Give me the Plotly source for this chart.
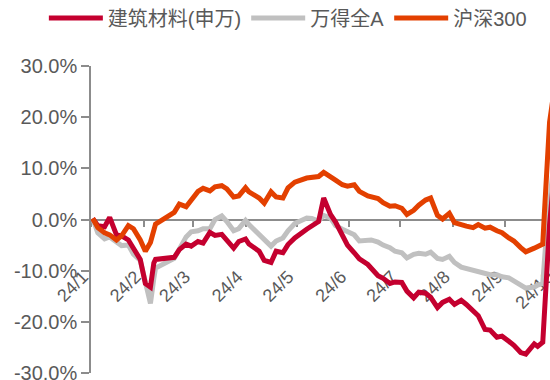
import plotly.graph_objects as go

# Trading-day samples, 2024
dates = [
    "2024-01-02", "2024-01-05", "2024-01-09", "2024-01-12", "2024-01-16", "2024-01-19",
    "2024-01-23", "2024-01-26", "2024-01-30", "2024-02-02", "2024-02-05", "2024-02-07",
    "2024-02-08", "2024-02-19", "2024-02-22", "2024-02-26", "2024-02-29", "2024-03-04",
    "2024-03-07", "2024-03-11", "2024-03-14", "2024-03-18", "2024-03-21", "2024-03-25",
    "2024-03-28", "2024-04-01", "2024-04-03", "2024-04-09", "2024-04-12", "2024-04-16",
    "2024-04-19", "2024-04-23", "2024-04-26", "2024-04-30", "2024-05-07", "2024-05-10",
    "2024-05-14", "2024-05-17", "2024-05-21", "2024-05-24", "2024-05-28", "2024-05-31",
    "2024-06-04", "2024-06-07", "2024-06-12", "2024-06-14", "2024-06-18", "2024-06-21",
    "2024-06-25", "2024-06-28", "2024-07-02", "2024-07-05", "2024-07-09", "2024-07-12",
    "2024-07-16", "2024-07-19", "2024-07-23", "2024-07-26", "2024-07-30", "2024-08-02",
    "2024-08-06", "2024-08-09", "2024-08-13", "2024-08-16", "2024-08-20", "2024-08-23",
    "2024-08-27", "2024-08-30", "2024-09-03", "2024-09-06", "2024-09-10", "2024-09-13",
    "2024-09-18", "2024-09-20", "2024-09-23", "2024-09-24", "2024-09-25", "2024-09-26",
    "2024-09-27", "2024-09-30",
]

# Cumulative change since the start of the year, %
building_materials = [
    0.2, -1.2, -1.4, 0.4, -3.0, -3.2, -4.0, -5.6, -7.8, -12.5, -13.2, -8.5,
    -7.8, -7.4, -5.9, -4.8, -5.2, -4.3, -4.6, -2.5, -3.1, -2.9, -4.2, -5.6,
    -4.3, -3.8, -4.8, -6.2, -8.0, -8.4, -6.2, -6.5, -4.9, -3.6, -1.9, -1.2,
    -0.4, 4.2, 1.0, -0.5, -3.3, -5.0, -6.5, -7.7, -8.8, -9.6, -11.0, -11.5,
    -12.5, -12.2, -12.3, -14.0, -15.3, -14.2, -14.4, -15.2, -17.2, -16.2, -15.6, -16.6,
    -15.8, -16.6, -17.8, -18.8, -21.5, -21.6, -23.0, -22.8, -23.8, -24.6, -26.0, -26.3,
    -24.3, -24.8, -24.0, -18.0, -12.5, -6.5, -1.0, 10.0,
]
wind_all_a = [
    0.2, -2.6, -3.8, -3.4, -4.4, -5.1, -5.0, -6.8, -8.0, -12.5, -16.4, -11.5,
    -9.5, -7.6, -6.0, -3.4, -2.4, -2.2, -1.8, -1.8, 0.0, 0.7, -0.4, -2.2,
    -1.8, -0.2, -1.0, -3.0, -4.2, -5.2, -4.2, -3.6, -2.2, -0.8, 0.3, 0.2,
    -0.3, 0.8, 0.3, -1.2, -1.9, -2.3, -3.0, -4.2, -4.0, -4.0, -4.4, -5.0,
    -5.5, -6.2, -6.5, -7.5, -6.8, -6.6, -6.8, -6.4, -7.6, -7.8, -7.2, -8.4,
    -9.3, -9.6, -10.0, -10.2, -10.6, -10.8, -10.8, -11.2, -11.4, -12.0, -12.8, -13.4,
    -13.2, -12.8, -12.5, -7.0, -3.5, -0.5, 3.5, 13.0,
]
csi300 = [
    0.2, -1.6, -2.6, -3.0, -4.0, -3.2, -1.2, -1.8, -4.0, -6.2, -4.5, -1.5,
    -0.9, 1.4, 3.0, 2.5, 3.8, 5.5, 6.1, 5.6, 6.4, 6.6, 6.0, 4.4,
    4.6, 6.2, 5.4, 4.2, 3.2, 5.4, 4.4, 4.2, 6.2, 7.3, 8.1, 8.2,
    8.4, 9.2, 8.2, 7.7, 6.8, 6.5, 6.8, 5.5, 4.6, 4.5, 4.1, 3.3,
    2.6, 2.7, 2.2, 1.0, 1.8, 2.8, 3.8, 4.2, 0.8, 0.1, 1.2, -0.6,
    -1.1, -1.3, -1.6, -1.0, -1.7, -1.5, -2.2, -2.6, -3.6, -4.2, -5.5, -6.3,
    -5.6, -5.2, -4.8, 1.5, 9.0, 14.0, 19.0, 26.0,
]

y_ticks = [-30, -20, -10, 0, 10, 20, 30]
y_tick_labels = ["-30.0%", "-20.0%", "-10.0%", "0.0%", "10.0%", "20.0%", "30.0%"]

series = [
    # (name, values, colour, legend position); later traces draw on top
    ("万得全A", wind_all_a, "#C0C0C0", 2),
    ("建筑材料(申万)", building_materials, "#C4002F", 1),
    ("沪深300", csi300, "#E34000", 3),
]

FONT = "Arial, 'Liberation Sans', 'Noto Sans CJK SC', sans-serif"
TEXT = "#595959"
AXIS = "#8C8C8C"

fig = go.Figure()
for name, values, colour, rank in series:
    fig.add_trace(go.Scatter(
        x=dates, y=values, name=name, mode="lines",
        line=dict(color=colour, width=5),
        legendrank=rank,
    ))

fig.update_layout(
    width=620, height=380,
    margin=dict(l=91, r=11, t=66, b=7, autoexpand=False),
    paper_bgcolor="white", plot_bgcolor="white",
    font=dict(family=FONT, color=TEXT),
    showlegend=True,
    legend=dict(
        orientation="h", x=-0.091, xanchor="left", y=1.156, yanchor="middle",
        font=dict(size=20, color=TEXT), itemwidth=54,
        bgcolor="rgba(0,0,0,0)", traceorder="normal",
    ),
    xaxis=dict(
        type="date", range=["2024-01-01", "2024-11-01"],
        anchor="free", position=0.5, automargin=False,
        showline=True, linecolor=AXIS, linewidth=1.5,
        ticks="outside", ticklen=7, tickcolor=AXIS, tickwidth=1.5,
        tick0="2024-01-01", dtick="M1", tickformat="%y/%-m",
        tickangle=-45, ticklabelstandoff=32, ticklabelshift=-8,
        ticklabeloverflow="allow",
        tickfont=dict(size=18, color=TEXT),
        showgrid=False, zeroline=False, layer="below traces",
    ),
    yaxis=dict(
        range=[-30, 30], tickvals=y_ticks, ticktext=y_tick_labels,
        automargin=False, ticklabeloverflow="allow",
        showline=True, linecolor=AXIS, linewidth=1.5,
        ticks="outside", ticklen=8, tickcolor=AXIS, tickwidth=1.5,
        tickfont=dict(size=20, color=TEXT),
        showgrid=False, zeroline=False,
    ),
)

fig.write_html(
    "out.html",
    post_script="document.documentElement.style.overflow='hidden';"
                "document.body.style.overflow='hidden';document.body.style.margin='0';",
)
